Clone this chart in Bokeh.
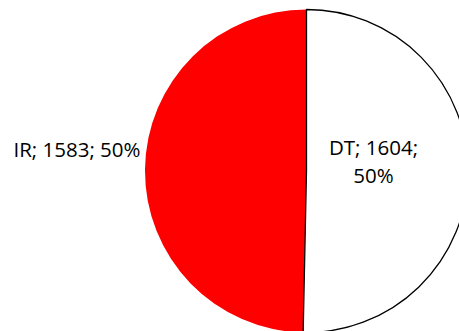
import math
from bokeh.plotting import figure
from bokeh.models import Range1d
from bokeh.core.properties import value
from bokeh.embed import file_html
from bokeh.resources import INLINE

categories = ["DT", "IR"]
counts = [1604, 1583]
colors = ["#ffffff", "#ff0000"]

W, H = 459, 331
p = figure(width=W, height=H, output_backend="svg", toolbar_location=None,
           x_range=Range1d(0, W), y_range=Range1d(0, H), min_border=0)
p.axis.visible = False
p.grid.visible = False
p.outline_line_color = None

cx, cy, r = 306, H - 170.5, 161.5
total = sum(counts)
# clockwise from 12 o'clock
ang = math.pi / 2
starts, ends = [], []
for c in counts:
    sweep = c / total * 2 * math.pi
    starts.append(ang - sweep)
    ends.append(ang)
    ang -= sweep

pcts = [round(c / total * 100) for c in counts]
p.wedge(x=cx, y=cy, radius=r, radius_units="screen", start_angle=starts[1],
        end_angle=ends[1], fill_color=colors[1], line_color=None)
p.wedge(x=cx, y=cy, radius=r, radius_units="screen", start_angle=starts[0],
        end_angle=ends[0], fill_color=colors[0], line_color="#000000", line_width=1.3)

lbl_ir = f"{categories[1]}; {counts[1]}; {pcts[1]}%"
lbl_dt = f"{categories[0]}; {counts[0]};\n{pcts[0]}%"

p.text(x=[140], y=[H - 148.5], text=[lbl_ir], text_align="right", text_baseline="middle",
       text_font=value("Open Sans"), text_font_size="20.5px", text_color="#000000")
p.text(x=[373], y=[H - 132.5], text=[lbl_dt], text_align="center", text_baseline="top",
       text_font=value("Open Sans"), text_font_size="20.5px", text_color="#000000",
       text_line_height=1.0)

open("out.html", "w").write(file_html(p, INLINE))
